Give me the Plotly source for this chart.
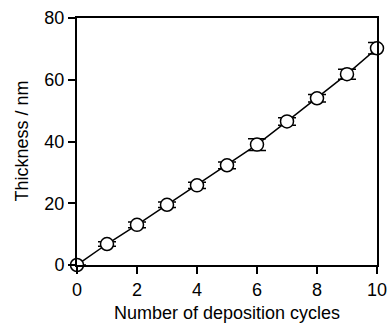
import plotly.graph_objects as go

# Film thickness after each deposition cycle (mean ± error)
cycles = [0, 1, 2, 3, 4, 5, 6, 7, 8, 9, 10]
thickness = [0.0, 6.8, 13.0, 19.5, 25.8, 32.3, 39.0, 46.5, 54.0, 61.8, 70.2]
thickness_err = [0.0, 0.7, 0.9, 0.9, 1.0, 1.1, 1.9, 1.2, 1.2, 1.6, 1.9]

x_ticks = [0, 2, 4, 6, 8, 10]
y_ticks = [0, 20, 40, 60, 80]

x_title = "Number of deposition cycles"
y_title = "Thickness / nm"

font_family = "Liberation Sans, Arial, Helvetica, sans-serif"
text_font = dict(family=font_family, size=18, color="black")

fig = go.Figure()
fig.add_trace(go.Scatter(
    x=cycles,
    y=thickness,
    mode="lines+markers",
    line=dict(color="black", width=1.5),
    marker=dict(symbol="circle", size=13, color="white",
                line=dict(color="black", width=1.5)),
    error_y=dict(type="data", array=thickness_err, visible=True,
                 color="black", thickness=1.5, width=9),
    cliponaxis=False,
    showlegend=False,
))

axis_common = dict(
    showgrid=False,
    zeroline=False,
    showline=True,
    linecolor="black",
    linewidth=2,
    mirror=True,
    ticks="outside",
    tickcolor="black",
    tickwidth=2,
    ticklen=7,
    automargin=False,
    ticklabeloverflow="allow",
    tickfont=text_font,
)

fig.update_xaxes(range=[0, 10], tickvals=x_ticks, **axis_common)
fig.update_yaxes(range=[0, 80], tickvals=y_ticks, **axis_common)

# Axis titles placed as annotations so the bottom one can sit near the page edge
fig.add_annotation(text=x_title, xref="paper", yref="paper", x=0.5, y=0,
                   xanchor="center", yanchor="top", yshift=-36,
                   showarrow=False, font=text_font)
fig.add_annotation(text=y_title, xref="paper", yref="paper", x=0, y=0.5,
                   xanchor="center", yanchor="middle", xshift=-56,
                   textangle=-90, showarrow=False, font=text_font)

fig.update_layout(
    width=387,
    height=324,
    margin=dict(l=77, r=10, t=18, b=59),
    paper_bgcolor="white",
    plot_bgcolor="white",
)

fig.write_html("out.html")
